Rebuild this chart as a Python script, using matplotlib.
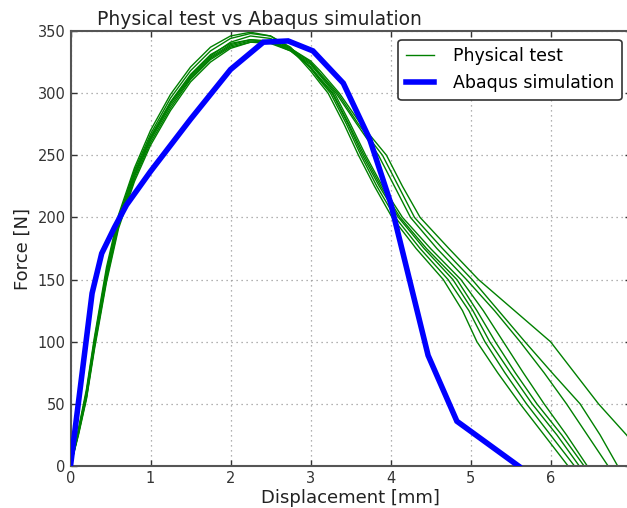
import numpy as np
import matplotlib
matplotlib.use("Agg")
import matplotlib.pyplot as plt

# Abaqus simulation (single polyline)
sim_disp = [0, 0.27, 0.39, 0.55, 0.70, 1.0, 1.5, 2.0, 2.41, 2.72, 3.03, 3.41, 3.74, 4.0, 4.47, 4.83, 5.6]
sim_force = [0, 139, 171, 192, 210, 237, 279, 319, 341, 342, 334, 308, 263, 212, 89, 36, 0]

# Physical tests: loading branch sampled on shared displacements
rise_disp = [0, 0.1, 0.2, 0.3, 0.45, 0.6, 0.8, 1.0, 1.25, 1.5, 1.75, 2.0, 2.25, 2.5, 2.75, 3.0, 3.12]
rise_force = [
    [0, 30, 62, 104, 160, 202, 240, 270, 299, 321, 337, 346, 349, 346, 336, 318, 308],
    [0, 28, 60, 102, 157, 200, 238, 267, 296, 318, 334, 344, 348, 346, 337, 320, 310],
    [0, 27, 57, 98, 152, 196, 234, 263, 292, 314, 330, 341, 346, 344, 336, 321, 311],
    [0, 29, 59, 100, 155, 198, 236, 265, 293, 315, 331, 340, 343, 341, 334, 321, 312],
    [0, 26, 55, 96, 150, 193, 231, 260, 288, 311, 327, 337, 341, 340, 334, 323, 314],
    [0, 27, 56, 97, 151, 195, 233, 262, 290, 312, 328, 338, 342, 341, 335, 324, 315],
    [0, 28, 58, 99, 154, 197, 235, 264, 292, 313, 329, 339, 343, 342, 336, 325, 316],
    [0, 25, 54, 94, 148, 191, 229, 258, 286, 309, 325, 336, 341, 341, 336, 326, 318],
]

# softening branch: displacement where each test reaches these force levels
fall_force = [300, 275, 250, 225, 200, 175, 150, 125, 100, 75, 50, 25, 0]
fall_disp = [
    [3.22, 3.42, 3.60, 3.80, 4.02, 4.32, 4.66, 4.90, 5.08, 5.34, 5.62, 5.92, 6.22],
    [3.25, 3.45, 3.63, 3.83, 4.06, 4.37, 4.72, 4.98, 5.18, 5.43, 5.70, 6.00, 6.30],
    [3.27, 3.47, 3.65, 3.86, 4.10, 4.42, 4.78, 5.03, 5.24, 5.50, 5.77, 6.08, 6.36],
    [3.28, 3.48, 3.67, 3.88, 4.12, 4.45, 4.83, 5.08, 5.31, 5.56, 5.83, 6.14, 6.42],
    [3.30, 3.50, 3.69, 3.90, 4.15, 4.50, 4.88, 5.16, 5.41, 5.66, 5.92, 6.20, 6.46],
    [3.32, 3.58, 3.85, 4.05, 4.25, 4.58, 4.95, 5.30, 5.62, 5.92, 6.20, 6.46, 6.72],
    [3.34, 3.60, 3.90, 4.10, 4.30, 4.65, 5.02, 5.35, 5.68, 6.02, 6.37, 6.62, 6.84],
    [3.36, 3.63, 3.95, 4.15, 4.37, 4.73, 5.10, 5.55, 6.00, 6.30, 6.60, 6.95, 7.25],
]

plt.rcParams['font.family'] = ['DejaVu Sans']
plt.rcParams['xtick.direction'] = 'in'
plt.rcParams['ytick.direction'] = 'in'

fig = plt.figure(figsize=(6.27, 5.08), dpi=100, facecolor='white')
ax = fig.add_axes([70.5 / 627, 42 / 508, 560 / 627, 435 / 508])

for i in range(len(rise_force)):
    x = rise_disp + fall_disp[i]
    y = rise_force[i] + fall_force
    ax.plot(x, y, color='green', lw=1.0,
            label='Physical test' if i == 0 else None, zorder=2)

ax.plot(sim_disp, sim_force, color='blue', lw=4, label='Abaqus simulation',
        solid_joinstyle='miter', zorder=3)

ax.set_xlim(0, 7)
ax.set_ylim(0, 350)
ax.set_xticks(range(0, 7))
ax.set_yticks(range(0, 351, 50))
ax.grid(True, color='0.6', linestyle=(0, (1, 3)), lw=0.9)
ax.tick_params(top=True, right=True, labelsize=10.5, colors='#333333',
               length=4, width=1)
for s in ax.spines.values():
    s.set_color('#555555')
    s.set_linewidth(1.5)

ax.set_xlabel('Displacement [mm]', fontsize=13, color='#222222', labelpad=2)
ax.set_ylabel('Force [N]', fontsize=13, color='#222222', labelpad=4)
ax.set_title('Physical test vs Abaqus simulation', fontsize=13.5,
             color='#222222', x=(259 - 70.5) / 560, pad=4)

leg = ax.legend(loc='upper right', fontsize=12.5, handlelength=1.6,
                handletextpad=1.1, borderpad=0.45, fancybox=True,
                framealpha=1, borderaxespad=0.5)
leg.get_frame().set_edgecolor('#333333')
leg.get_frame().set_linewidth(1.2)

fig.savefig('out.png', dpi=100, facecolor='white')
